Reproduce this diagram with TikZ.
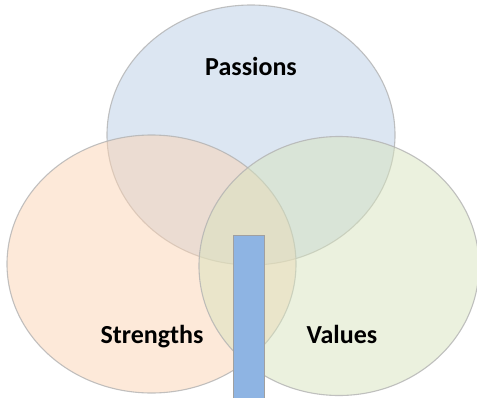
\documentclass[tikz,border=0pt]{standalone}
\usepackage{fontspec}
\setmainfont{Carlito}
\definecolor{cblue}{RGB}{185,205,229}
\definecolor{corange}{RGB}{251,211,179}
\definecolor{cgreen}{RGB}{215,227,189}
\definecolor{cedge}{RGB}{178,178,178}
\definecolor{cbar}{RGB}{142,180,227}
\definecolor{cbaredge}{RGB}{160,160,160}
\begin{document}
\begin{tikzpicture}[x=1pt,y=-1pt,
  setellipse/.style={draw=cedge, line width=1.1pt, draw opacity=0.8, fill opacity=0.5},
  lbl/.style={font=\fontsize{26}{31}\selectfont\bfseries, text=black, anchor=base}]
\useasboundingbox (0,0) rectangle (477,397);
\draw[setellipse, fill=cblue] (251,135) ellipse [x radius=144, y radius=130];
\draw[setellipse, fill=corange] (151.5,264) ellipse [x radius=144.5, y radius=129];
\draw[setellipse, fill=cgreen] (339,266) ellipse [x radius=140, y radius=129.5];
\node[lbl] (passions) at (251,75) {Passions};
\node[lbl] (strengths) at (152,343) {Strengths};
\node[lbl] (values) at (342,343) {Values};
\draw[fill=cbar, draw=cbaredge, line width=1.2pt] (233.5,235.5) rectangle (264.5,420);
\end{tikzpicture}
\end{document}
